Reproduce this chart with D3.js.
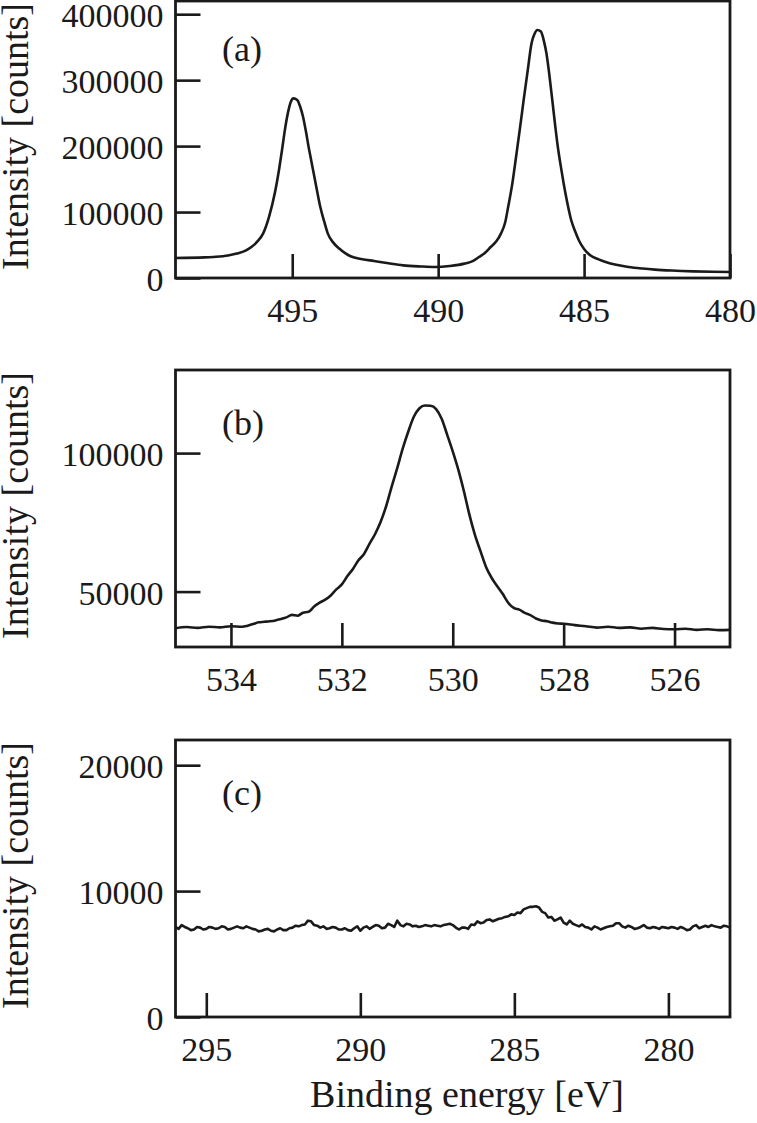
<!DOCTYPE html>
<html>
<head>
<meta charset="utf-8">
<script src="https://cdn.jsdelivr.net/npm/d3@7"></script>
<style>
  html, body { margin: 0; padding: 0; background: #fff; }
  svg { display: block; font-family: "Liberation Serif", "Times New Roman", serif; }
</style>
</head>
<body>
<div id="vis"></div>
<script>
// XPS spectra — three stacked panels, binding energy runs right-to-left

const width = 757, height = 1123;

// ---- (a) ----
const energyA = [499.0, 498.0, 497.7, 497.2, 496.9, 496.6, 496.4, 496.2, 496.0, 495.8, 495.6, 495.45, 495.35, 495.25, 495.15, 495.05, 494.96, 494.83, 494.73, 494.63, 494.53, 494.44, 494.34, 494.24, 494.14, 494.04, 493.9, 493.78, 493.6, 493.39, 493.2, 493.0, 492.6, 492.2, 491.7, 491.2, 490.6, 490.1, 489.6, 489.1, 488.8, 488.6, 488.4, 488.2, 488.0, 487.85, 487.7, 487.6, 487.47, 487.33, 487.2, 487.07, 486.93, 486.8, 486.7, 486.6, 486.48, 486.38, 486.29, 486.19, 486.09, 486.0, 485.9, 485.8, 485.7, 485.57, 485.44, 485.3, 485.18, 485.0, 484.79, 484.5, 484.26, 483.9, 483.48, 483.0, 482.57, 482.0, 481.26, 480.6, 480.0];
const countsA = [30400, 31200, 31900, 34000, 37000, 41500, 47000, 55000, 67300, 92000, 128000, 165000, 194000, 225000, 250000, 267000, 272400, 270000, 260000, 244500, 222000, 199000, 176000, 153000, 130000, 108000, 85000, 67300, 54000, 44600, 38000, 32900, 28500, 25800, 22300, 19200, 17500, 16700, 18200, 21800, 26000, 31900, 38000, 47000, 56000, 67300, 85000, 108000, 140000, 183800, 226000, 270000, 315000, 356000, 370000, 376000, 373700, 360000, 340800, 308000, 270000, 235000, 199000, 170000, 143300, 113000, 87600, 70000, 57200, 44000, 34400, 28300, 24300, 20000, 16700, 14300, 12700, 11300, 10100, 9500, 9100];
const xDomainA = [499, 480];
const yDomainA = [0, 420000];
const xTicksA = [495, 490, 485, 480];
const yTicksA = [0, 100000, 200000, 300000, 400000];

// ---- (b) ----
const energyB = [535.0, 534.8, 534.6, 534.4, 534.2, 534.0, 533.8, 533.7, 533.6, 533.5, 533.4, 533.3, 533.2, 533.1, 533.0, 532.9, 532.8, 532.7, 532.6, 532.5, 532.4, 532.3, 532.2, 532.1, 532.0, 531.9, 531.8, 531.7, 531.6, 531.5, 531.4, 531.3, 531.2, 531.1, 531.0, 530.9, 530.8, 530.7, 530.6, 530.5, 530.4, 530.3, 530.2, 530.1, 530.0, 529.9, 529.8, 529.7, 529.6, 529.5, 529.4, 529.3, 529.2, 529.1, 529.0, 528.9, 528.8, 528.7, 528.6, 528.5, 528.4, 528.3, 528.2, 528.1, 528.0, 527.8, 527.6, 527.4, 527.2, 527.0, 526.8, 526.6, 526.4, 526.2, 526.0, 525.8, 525.6, 525.4, 525.2, 525.0];
const countsB = [36800, 37200, 36900, 37300, 37100, 37500, 37300, 37700, 38300, 38900, 39100, 39300, 39600, 40100, 40700, 41600, 41300, 42400, 42700, 44600, 46000, 47100, 48600, 50800, 52600, 55600, 58200, 61300, 63600, 67300, 70800, 75200, 80900, 88000, 94700, 101800, 107900, 113200, 116200, 117200, 117100, 115900, 112400, 106600, 100600, 94000, 86300, 77800, 70500, 64600, 58900, 55000, 52000, 49200, 46000, 44100, 43500, 42300, 41500, 40300, 39600, 39300, 38800, 38500, 38400, 37900, 37500, 37000, 37300, 36900, 37100, 36600, 36900, 36500, 36400, 36600, 36200, 36400, 36100, 36200];
const xDomainB = [535, 525];
const yDomainB = [30000, 130000];
const xTicksB = [534, 532, 530, 528, 526];
const yTicksB = [50000, 100000];

// ---- (c) ----
const energyC = [
  296.0, 295.9, 295.8, 295.7, 295.6, 295.5, 295.4, 295.3, 295.2, 295.1,
  295.0, 294.9, 294.8, 294.7, 294.6, 294.5, 294.4, 294.3, 294.2, 294.1,
  294.0, 293.9, 293.8, 293.7, 293.6, 293.5, 293.4, 293.3, 293.2, 293.1,
  293.0, 292.9, 292.8, 292.7, 292.6, 292.5, 292.4, 292.3, 292.2, 292.1,
  292.0, 291.9, 291.8, 291.7, 291.6, 291.5, 291.4, 291.3, 291.2, 291.1,
  291.0, 290.9, 290.8, 290.7, 290.6, 290.5, 290.4, 290.3, 290.2, 290.1,
  290.0, 289.9, 289.8, 289.7, 289.6, 289.5, 289.4, 289.3, 289.2, 289.1,
  289.0, 288.9, 288.8, 288.7, 288.6, 288.5, 288.4, 288.3, 288.2, 288.1,
  288.0, 287.9, 287.8, 287.7, 287.6, 287.5, 287.4, 287.3, 287.2, 287.1,
  287.0, 286.9, 286.8, 286.7, 286.6, 286.5, 286.4, 286.3, 286.2, 286.1,
  286.0, 285.9, 285.8, 285.7, 285.6, 285.5, 285.4, 285.3, 285.2, 285.1,
  285.0, 284.9, 284.8, 284.7, 284.6, 284.5, 284.4, 284.3, 284.2, 284.1,
  284.0, 283.9, 283.8, 283.7, 283.6, 283.5, 283.4, 283.3, 283.2, 283.1,
  283.0, 282.9, 282.8, 282.7, 282.6, 282.5, 282.4, 282.3, 282.2, 282.1,
  282.0, 281.9, 281.8, 281.7, 281.6, 281.5, 281.4, 281.3, 281.2, 281.1,
  281.0, 280.9, 280.8, 280.7, 280.6, 280.5, 280.4, 280.3, 280.2, 280.1,
  280.0, 279.9, 279.8, 279.7, 279.6, 279.5, 279.4, 279.3, 279.2, 279.1,
  279.0, 278.9, 278.8, 278.7, 278.6, 278.5, 278.4, 278.3, 278.2, 278.1,
  278.0
];
const countsC = [
  7150, 7000, 7300, 7150, 7050, 6900, 6950, 7150, 7100, 6950,
  7000, 7150, 7100, 7000, 7050, 7200, 7150, 6950, 7000, 7100,
  7200, 7100, 7050, 7200, 7100, 7000, 6950, 6800, 6850, 6950,
  7000, 6850, 6800, 6950, 7050, 6900, 6900, 7050, 7100, 7250,
  7200, 7300, 7350, 7650, 7600, 7300, 7250, 7100, 7200, 7000,
  7050, 7150, 7100, 6950, 6950, 7050, 6900, 6850, 7050, 7200,
  6850, 7100, 7200, 7000, 7150, 7300, 7250, 7050, 7100, 7400,
  7300, 7150, 7650, 7300, 7200, 7400, 7350, 7200, 7250, 7150,
  7200, 7300, 7250, 7200, 7300, 7250, 7200, 7300, 7350, 7400,
  7300, 7100, 6950, 7100, 7100, 7000, 7350, 7300, 7600, 7450,
  7500, 7700, 7750, 7600, 7700, 7800, 7850, 7950, 8000, 8150,
  8100, 8300, 8250, 8550, 8650, 8750, 8750, 8800, 8700, 8350,
  8250, 7900, 7950, 7650, 7750, 7900, 7500, 7350, 7650, 7400,
  7300, 7200, 7350, 7150, 7100, 6950, 7200, 7100, 6950, 7050,
  7150, 7200, 7250, 7450, 7450, 7200, 7100, 7250, 7150, 7000,
  7050, 7150, 7300, 7100, 7050, 7150, 7100, 7000, 7150, 7100,
  7050, 7150, 7100, 7000, 7150, 7050, 6900, 6950, 7200, 7300,
  7050, 7150, 7250, 7150, 7300, 7200, 7150, 7100, 7250, 7200,
  7100
];
const xDomainC = [296, 278];
const yDomainC = [0, 22000];
const xTicksC = [295, 290, 285, 280];
const yTicksC = [0, 10000, 20000];

const panelLabels = ["(a)", "(b)", "(c)"];
const yTitle = "Intensity [counts]";
const xTitle = "Binding energy [eV]";

// layout
const plotLeft = 175.5, plotRight = 730, plotH = 277;
const panelTops = [1, 370, 740];
const labelOffsets = [60, 65, 65];
const INK = "#1a1a1a";

const panels = [
  { e: energyA, c: countsA, xd: xDomainA, yd: yDomainA, xt: xTicksA, yt: yTicksA, curve: d3.curveMonotoneX },
  { e: energyB, c: countsB, xd: xDomainB, yd: yDomainB, xt: xTicksB, yt: yTicksB, curve: d3.curveMonotoneX },
  { e: energyC, c: countsC, xd: xDomainC, yd: yDomainC, xt: xTicksC, yt: yTicksC, curve: d3.curveLinear }
];

const svg = d3.select("#vis").append("svg")
  .attr("width", width).attr("height", height)
  .attr("viewBox", [0, 0, width, height]);

panels.forEach((p, i) => {
  const top = panelTops[i], bottom = top + plotH;
  const x = d3.scaleLinear().domain(p.xd).range([plotLeft, plotRight]);
  const y = d3.scaleLinear().domain(p.yd).range([bottom, top]);
  const g = svg.append("g").attr("class", "panel");

  // x axis (ticks inside)
  const gx = g.append("g")
    .attr("transform", `translate(0,${bottom})`)
    .call(d3.axisBottom(x).tickValues(p.xt).tickFormat(d3.format("d"))
      .tickSizeInner(-24).tickSizeOuter(0).tickPadding(20));
  // y axis (ticks inside)
  const gy = g.append("g")
    .attr("transform", `translate(${plotLeft},0)`)
    .call(d3.axisLeft(y).tickValues(p.yt).tickFormat(d3.format("d"))
      .tickSizeInner(-25).tickSizeOuter(0).tickPadding(12));

  [gx, gy].forEach(a => {
    a.select(".domain").remove();
    a.selectAll(".tick line").attr("stroke", INK).attr("stroke-width", 2.6);
    a.selectAll(".tick text").attr("fill", INK)
      .attr("font-family", "Liberation Serif, serif").attr("font-size", 34);
  });
  gy.selectAll(".tick text").attr("dy", "0.37em");

  // frame
  g.append("rect")
    .attr("x", plotLeft).attr("y", top)
    .attr("width", plotRight - plotLeft).attr("height", plotH)
    .attr("fill", "none").attr("stroke", INK).attr("stroke-width", 2.8);

  // spectrum
  const line = d3.line()
    .x((d, k) => x(p.e[k]))
    .y(d => y(d))
    .curve(p.curve);
  g.append("path")
    .datum(p.c)
    .attr("d", line)
    .attr("fill", "none")
    .attr("stroke", INK)
    .attr("stroke-width", 2.6)
    .attr("stroke-linejoin", "round");

  // panel label
  g.append("text")
    .attr("x", 222).attr("y", top + labelOffsets[i])
    .attr("font-size", 36).attr("fill", INK)
    .text(panelLabels[i]);

  // y title
  g.append("text")
    .attr("transform", `translate(27.5,${top + plotH / 2 - 3}) rotate(-90)`)
    .attr("text-anchor", "middle")
    .attr("font-size", 38).attr("fill", INK)
    .text(yTitle);
});

svg.append("text")
  .attr("x", 467).attr("y", 1107)
  .attr("text-anchor", "middle")
  .attr("font-size", 38).attr("fill", INK)
  .text(xTitle);
</script>
</body>
</html>
